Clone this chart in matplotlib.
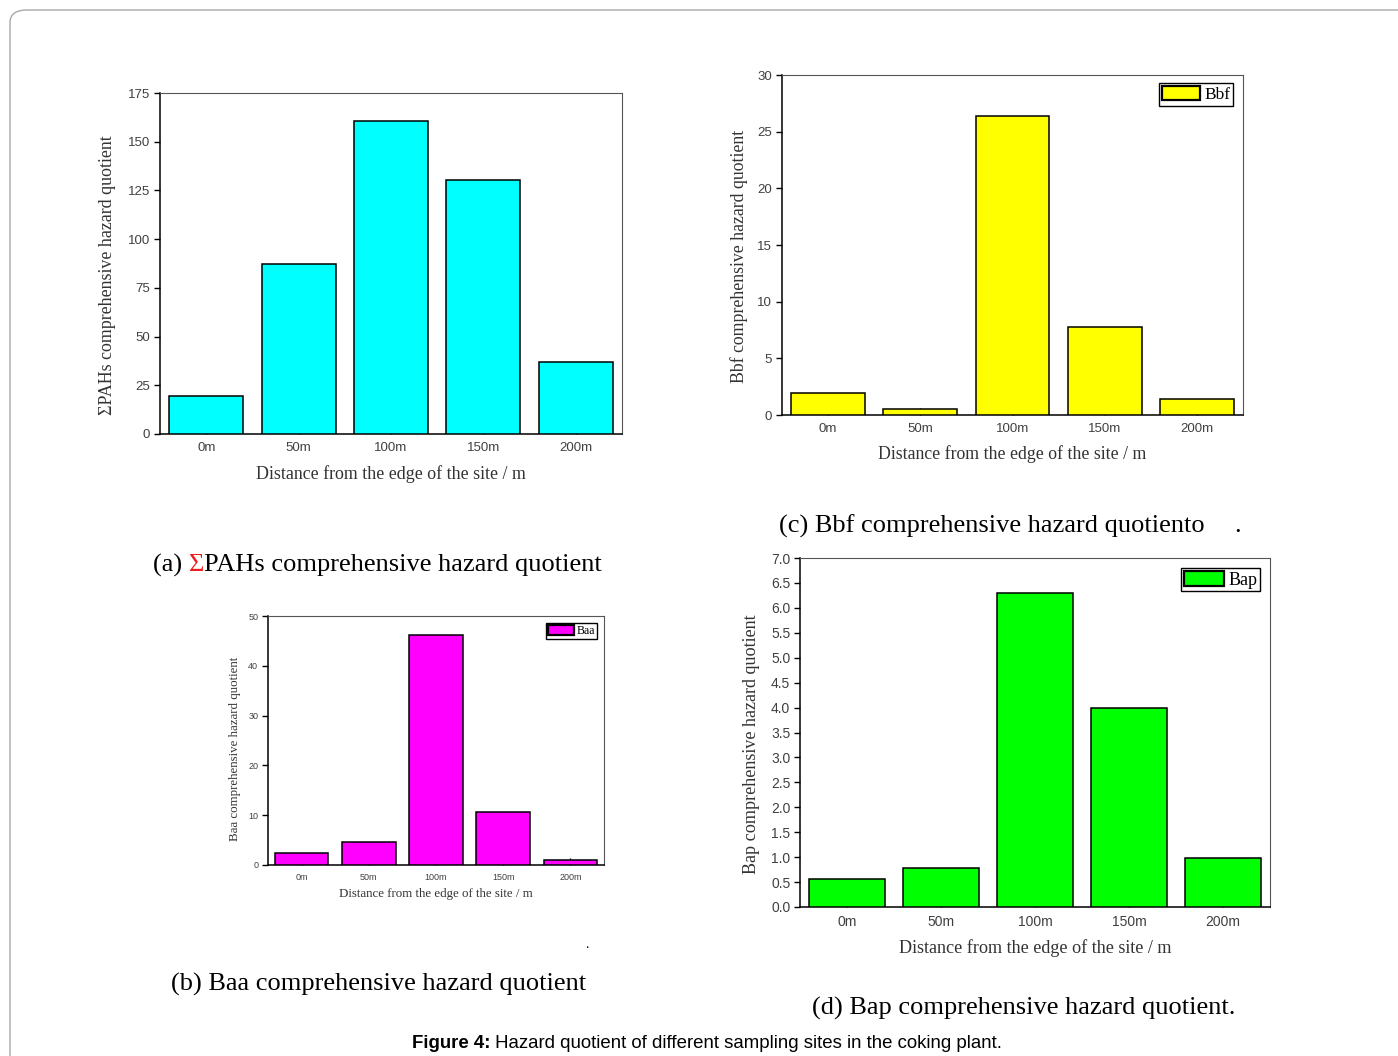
import matplotlib
matplotlib.use("Agg")
import matplotlib.pyplot as plt
from matplotlib.patches import FancyBboxPatch, Patch
from matplotlib.ticker import FormatStrFormatter

W, H = 1398, 1056

# ── data ──────────────────────────────────────────────────────────────
sites = ["0m", "50m", "100m", "150m", "200m"]
pahs = [19.5, 87.0, 160.4, 130.6, 37.2]
bbf = [1.9, 0.55, 26.4, 7.8, 1.45]
baa = [2.5, 4.6, 46.1, 10.7, 1.1]
bap = [0.57, 0.78, 6.30, 4.00, 0.99]

SERIF = "Liberation Serif"
SANS = "Liberation Sans"

fig = plt.figure(figsize=(W / 100, H / 100), dpi=100)

# rounded page frame
frame = FancyBboxPatch((10 / W, 1 - 1100 / H), 1430 / W, 1090 / H,
                       boxstyle="round,pad=0,rounding_size=0.012",
                       transform=fig.transFigure, fc="none", ec="#a8a8a8", lw=1.0)
fig.patches.append(frame)


def px_axes(l, t, r, b):
    return fig.add_axes([l / W, 1 - b / H, (r - l) / W, (b - t) / H])


def bar_panel(ax, vals, color, ymax, ystep, ylabel, tick_fs, lab_fs,
              ylab_x, xlab_y, legend=None, leg_fs=12, leg_anchor=None, fmt=None):
    x = list(range(len(sites)))
    ax.bar(x, vals, width=0.8, color=color, edgecolor="black", linewidth=1.1, zorder=3)
    ax.set_xlim(-0.5, len(sites) - 0.5)
    ax.set_ylim(0, ymax)
    ax.set_yticks([i * ystep for i in range(int(round(ymax / ystep)) + 1)])
    if fmt:
        ax.yaxis.set_major_formatter(FormatStrFormatter(fmt))
    ax.set_xticks(x)
    ax.set_xticklabels(sites)
    ax.tick_params(axis="x", direction="in", length=5, width=1.0, pad=6,
                   labelsize=tick_fs, labelcolor="#404040")
    ax.tick_params(axis="y", direction="out", length=4, width=1.0, pad=3,
                   labelsize=tick_fs, labelcolor="#404040")
    for lab in ax.get_xticklabels() + ax.get_yticklabels():
        lab.set_family(SANS)
    for s in ["left", "bottom"]:
        ax.spines[s].set_color("black")
        ax.spines[s].set_linewidth(1.1)
    for s in ["top", "right"]:
        ax.spines[s].set_color("#555555")
        ax.spines[s].set_linewidth(0.8)
    ax.set_xlabel("Distance from the edge of the site / m", family=SERIF,
                  fontsize=lab_fs, color="#333333")
    ax.set_ylabel(ylabel, family=SERIF, fontsize=lab_fs, color="#333333")
    ax.xaxis.set_label_coords(0.5, xlab_y)
    ax.yaxis.set_label_coords(ylab_x, 0.467)
    if legend:
        h = Patch(facecolor=color, edgecolor="black", linewidth=1.6)
        ax.legend([h], [legend], loc="upper right", bbox_to_anchor=leg_anchor,
                  borderaxespad=0, fancybox=False, framealpha=1, edgecolor="black",
                  prop={"family": SERIF, "size": leg_fs}, handlelength=2.2,
                  handleheight=0.9, handletextpad=0.25, borderpad=0.15)


# (a) ΣPAHs
ax_a = px_axes(160, 93, 622, 434)
bar_panel(ax_a, pahs, "#00FFFF", 175, 25, "\u03a3PAHs comprehensive hazard quotient",
          9.5, 12.9, -0.095, -0.09)

# (c) Bbf
ax_c = px_axes(782, 75, 1243, 415)
bar_panel(ax_c, bbf, "#FFFF00", 30, 5, "Bbf comprehensive hazard quotient",
          9.5, 12.8, -0.074, -0.09, legend="Bbf", leg_fs=12.5, leg_anchor=(0.978, 0.976))

# (b) Baa
ax_b = px_axes(268, 616, 604, 865)
bar_panel(ax_b, baa, "#FF00FF", 50, 10, "Baa comprehensive hazard quotient",
          6.5, 9.3, -0.08, -0.092, legend="Baa", leg_fs=8.5, leg_anchor=(0.979, 0.972))

# (d) Bap
ax_d = px_axes(800, 558, 1270, 907)
bar_panel(ax_d, bap, "#00FF00", 7.0, 0.5, "Bap comprehensive hazard quotient",
          10, 13.1, -0.085, -0.092, legend="Bap", leg_fs=13, leg_anchor=(0.979, 0.971),
          fmt="%.1f")

# ── captions ──────────────────────────────────────────────────────────
fig.canvas.draw()
r = fig.canvas.get_renderer()
CAP = 19


def caption_parts(x, y, parts, fs=CAP):
    for txt, col in parts:
        t = fig.text(x / W, 1 - y / H, txt, family=SERIF, fontsize=fs, color=col,
                     va="center", ha="left")
        bb = t.get_window_extent(renderer=r)
        x += bb.width


caption_parts(153, 565, [("(a) ", "black"), ("\u03a3", "#ee1c1c"),
                         ("PAHs comprehensive hazard quotient", "black")])
fig.text(779 / W, 1 - 526 / H, "(c) Bbf comprehensive hazard quotiento",
         family=SERIF, fontsize=CAP, va="center")
fig.text(1234 / W, 1 - 526 / H, ".", family=SERIF, fontsize=CAP, va="center")
fig.text(171 / W, 1 - 984 / H, "(b) Baa comprehensive hazard quotient",
         family=SERIF, fontsize=CAP, va="center")
fig.text(585 / W, 1 - 944 / H, ".", family=SERIF, fontsize=10, va="center")
fig.text(812 / W, 1 - 1008 / H, "(d) Bap comprehensive hazard quotient.",
         family=SERIF, fontsize=CAP, va="center")

t = fig.text(412 / W, 1 - 1044 / H, "Figure 4:", family=SANS, fontsize=13.4,
             weight="bold", va="center")
bb = t.get_window_extent(renderer=r)
fig.text((412 + bb.width) / W, 1 - 1044 / H,
         " Hazard quotient of different sampling sites in the coking plant.",
         family=SANS, fontsize=13.4, va="center")

fig.savefig("out.png", dpi=100)
